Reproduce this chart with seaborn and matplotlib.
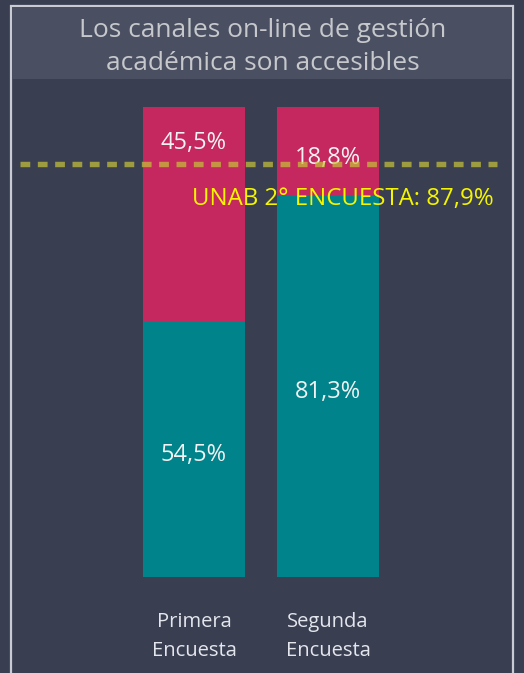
import matplotlib
matplotlib.use('Agg')
import matplotlib.pyplot as plt
import seaborn as sns
import pandas as pd
from matplotlib.patches import Rectangle

# Data
encuestas = ['Primera\nEncuesta', 'Segunda\nEncuesta']
de_acuerdo = [54.5, 81.3]
en_desacuerdo = [45.5, 18.8]
referencia = 87.9
referencia_label = 'UNAB 2° ENCUESTA: 87,9%'
titulo = 'Los canales on-line de gestión\nacadémica son accesibles'

BG = '#393f51'
BAND = '#4a5062'
PINK = '#c4285e'
TEAL = '#00838a'

sns.set_theme(style='white')
plt.rcParams['font.family'] = ['Open Sans', 'DejaVu Sans']

W, H = 524, 673
fig = plt.figure(figsize=(W / 100, H / 100), dpi=100, facecolor=BG)

# frame and title band (figure pixel coords)
fig.patches.append(Rectangle((11 / W, -0.05), 502 / W, (H - 6) / H + 0.05,
                             transform=fig.transFigure, facecolor='none',
                             edgecolor='#c9cbd3', lw=1.6, zorder=0))
fig.patches.append(Rectangle((12 / W, (H - 79) / H), 500 / W, 72 / H,
                             transform=fig.transFigure, facecolor=BAND,
                             edgecolor='none', zorder=0))
fig.text(263 / W, (H - 47) / H, titulo, ha='center', va='center',
         fontsize=19, color='#c6c8cc', linespacing=1.42)

ax = fig.add_axes([10 / W, (H - 577) / H, 502 / W, 470 / H])
ax.set_facecolor('none')

df = pd.DataFrame({'encuesta': encuestas,
                   'total': [a + b for a, b in zip(de_acuerdo, en_desacuerdo)],
                   'acuerdo': de_acuerdo})

sns.barplot(data=df, x='encuesta', y='total', color=PINK, saturation=1,
            width=0.76, linewidth=0, ax=ax)
sns.barplot(data=df, x='encuesta', y='acuerdo', color=TEAL, saturation=1,
            width=0.76, linewidth=0, ax=ax)

ax.set_xlim(-(194 - 10) / 134, (512 - 194) / 134)
ax.set_ylim(0, 100)

# value labels
for i, (a, b) in enumerate(zip(de_acuerdo, en_desacuerdo)):
    ax.text(i, a / 2 - 1.2, f'{a:.1f}%'.replace('.', ','), ha='center',
            va='center', fontsize=17, color='#f2f2f2')
    ytop = a + b / 2 - 1.6 if b < 30 else a + b - 7.6
    ax.text(i, ytop, f'{b:.1f}%'.replace('.', ','), ha='center',
            va='center', fontsize=17, color='#f2f2f2')

# reference line
ax.axhline(referencia, xmin=(20 - 10) / 502, xmax=(497 - 10) / 502,
           color='#c8c43a', alpha=0.7, lw=3.9, ls=(0, (1.8, 1.4)), zorder=5)
ax.text((494 - 194) / 134, referencia - 7.4, referencia_label, ha='right',
        va='center', fontsize=17.3, color='#f5f500', zorder=6)

ax.set_xlabel('')
ax.set_ylabel('')
ax.set_yticks([])
ax.tick_params(axis='x', length=0, pad=25, labelsize=14.5, colors='#e4e6ee')
for lab in ax.get_xticklabels():
    lab.set_linespacing(1.6)
sns.despine(ax=ax, left=True, bottom=True)

fig.savefig('out.png', dpi=100, facecolor=BG)
